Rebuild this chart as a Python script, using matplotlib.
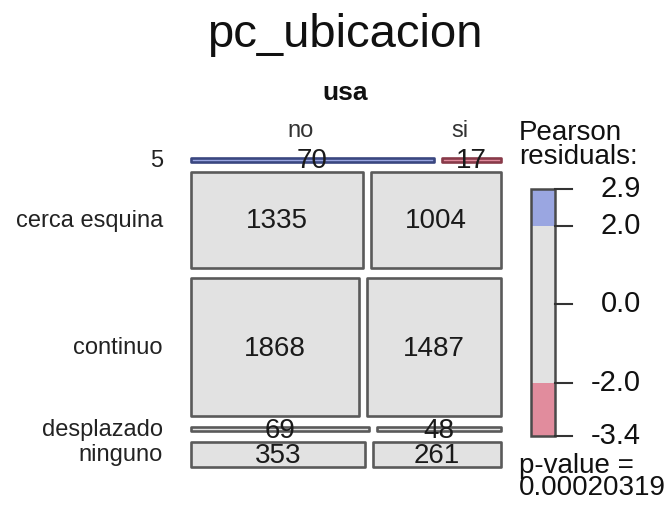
import numpy as np
import matplotlib
matplotlib.use("Agg")
import matplotlib.pyplot as plt
from matplotlib.patches import Rectangle

# ---- data ----
row_levels = ["5", "cerca esquina", "continuo", "desplazado", "ninguno"]
col_levels = ["no", "si"]
counts_no = [70, 1335, 1868, 69, 353]
counts_si = [17, 1004, 1487, 48, 261]
p_value_text = "0.00020319"

plt.rcParams['font.family'] = ['Liberation Sans', 'DejaVu Sans']

obs = np.array([counts_no, counts_si], dtype=float).T  # rows x cols
N = obs.sum()
row_tot = obs.sum(axis=1)
col_tot = obs.sum(axis=0)
expected = np.outer(row_tot, col_tot) / N
resid = (obs - expected) / np.sqrt(expected)

def shade(r):
    if r > 2:
        return "#9aa6e1", "#3a4780"
    if r < -2:
        return "#e18c9d", "#883a49"
    return "#e2e2e2", "#5a5a5a"

fig = plt.figure(figsize=(6.72, 5.08), dpi=100)
ax = fig.add_axes([0, 0, 1, 1])
ax.set_xlim(0, 672)
ax.set_ylim(508, 0)
ax.axis("off")

# mosaic geometry
x0, x1, gx = 191, 501, 8
y0, y1, gy = 158, 467, 10.3
content_h = (y1 - y0) - gy * (len(row_levels) - 1)
content_w = (x1 - x0) - gx * (len(col_levels) - 1)

y = y0
for i, lab in enumerate(row_levels):
    h = row_tot[i] / N * content_h
    x = x0
    for j in range(len(col_levels)):
        w = obs[i, j] / row_tot[i] * content_w
        fc, ec = shade(resid[i, j])
        ax.add_patch(Rectangle((x, y), w, h, facecolor=fc, edgecolor=ec,
                               linewidth=1.9, joinstyle="round"))
        ax.text(x + w / 2, y + h / 2 + 1.5, f"{int(obs[i, j])}", ha="center",
                va="center", fontsize=20, color="#1a1a1a")
        if i == 0:
            ax.text(x + w / 2 - 12, 131, col_levels[j], ha="center",
                    va="center", fontsize=17, color="#333333")
        x += w + gx
    ax.text(163, y + h / 2 + 1, lab, ha="right", va="center", fontsize=17,
            color="#222222")
    y += h + gy

ax.text(345, 35, "pc_ubicacion", ha="center", va="center", fontsize=34,
        color="#111111")
ax.text(345, 93, "usa", ha="center", va="center", fontsize=19,
        fontweight="bold", color="#111111")

# legend
rmax, rmin = resid.max(), resid.min()
ly_top, ly_bot = 189, 436
bx0, bx1 = 531, 555

def ly(v):
    return ly_top + (rmax - v) / (rmax - rmin) * (ly_bot - ly_top)

segments = [(rmax, 2, "#9aa6e1"), (2, -2, "#e2e2e2"), (-2, rmin, "#e18c9d")]
for hi, lo, c in segments:
    ax.add_patch(Rectangle((bx0, ly(hi)), bx1 - bx0, ly(lo) - ly(hi),
                           facecolor=c, edgecolor="none"))
ax.add_patch(Rectangle((bx0, ly_top), bx1 - bx0, ly_bot - ly_top,
                       facecolor="none", edgecolor="#4a4a4a", linewidth=1.8))
for v in [rmax, 2.0, 0.0, -2.0, rmin]:
    yy = ly(v)
    ax.plot([bx1, 572], [yy, yy], color="#333333", linewidth=1.5)
    ax.text(641, yy, f"{v:.1f}", ha="right", va="center", fontsize=21,
            color="#111111")

ax.text(519, 145, "Pearson\nresiduals:", ha="left", va="center", fontsize=20,
        color="#111111", linespacing=0.85)
ax.text(519, 477, "p-value =\n" + p_value_text, ha="left", va="center",
        fontsize=20, color="#111111", linespacing=0.8)

fig.savefig("out.png", dpi=100)
